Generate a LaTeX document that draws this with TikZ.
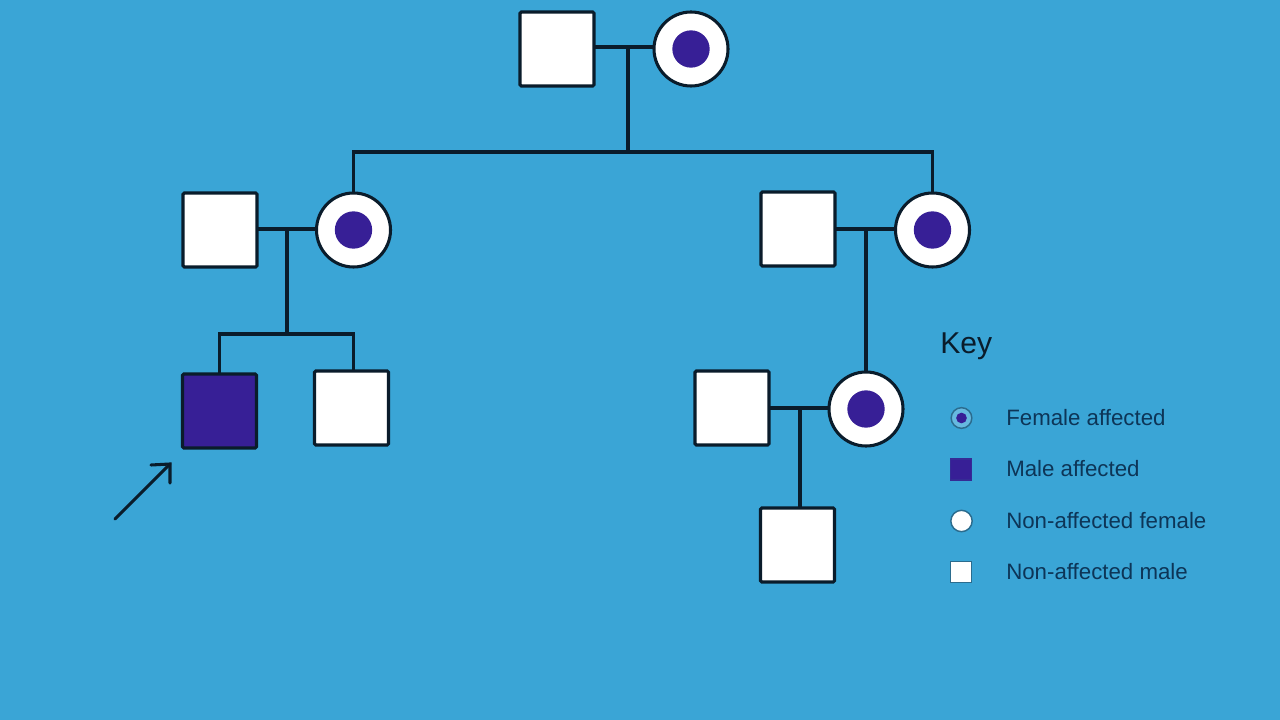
\documentclass[tikz,border=0pt]{standalone}
\usepackage{fontspec}
\setmainfont{Liberation Sans}
\definecolor{bgblue}{HTML}{3AA5D6}
\definecolor{affect}{HTML}{371F96}
\definecolor{inkline}{HTML}{0A1C2B}
\definecolor{keytext}{HTML}{0D3557}
\definecolor{keyedge}{HTML}{2B6C8E}
\definecolor{keyring}{HTML}{66B9E0}
\tikzset{
  x=0.75pt,y=-0.75pt,
  link/.style={draw=inkline,line width=2.3pt},
  male/.style={draw=inkline,line width=2.3pt,fill=white,rounded corners=1pt,minimum size=55.5pt,inner sep=0pt,outer sep=0pt},
  malesick/.style={male,fill=affect},
  carrier/.style={circle,draw=inkline,line width=2.3pt,fill=white,minimum size=55.5pt,inner sep=0pt,outer sep=0pt,
    path picture={\fill[affect] (path picture bounding box.center) circle (14pt);}},
  keylabel/.style={anchor=west,text=keytext,font=\fontsize{16.7pt}{18pt}\selectfont,inner sep=0pt},
  keyline/.style={line width=1.1pt},
}
\begin{document}
\begin{tikzpicture}
\useasboundingbox[fill=bgblue] (0,0) rectangle (1280,720);
% people
\node[male] (gpm) at (557,49) {};
\node[carrier] (gpf) at (691,49) {};
\node[male] (lm) at (220,230) {};
\node[carrier] (lf) at (353.5,230) {};
\node[male] (rm) at (798,229) {};
\node[carrier] (rf) at (932.5,230) {};
\node[malesick] (c1) at (219.5,411) {};
\node[male] (c2) at (351.5,408) {};
\node[male] (sm) at (732,408) {};
\node[carrier] (sf) at (866,409) {};
\node[male] (gc) at (797.5,545) {};
% junctions
\coordinate (j0) at (628,47);
\coordinate (j0b) at (628,152);
\coordinate (j1) at (287,229);
\coordinate (j1b) at (287,334);
\coordinate (j2) at (866,229);
\coordinate (j3) at (800,408);
\coordinate (c2top) at (353.5,371);
% connectors
\draw[link] (gpm.east |- j0) -- (gpf.west |- j0);
\draw[link] (j0) -- (j0b);
\draw[link] (lf.north) -- (lf.north |- j0b) -- (rf.north |- j0b) -- (rf.north);
\draw[link] (lm.east |- j1) -- (lf.west |- j1);
\draw[link] (j1) -- (j1b);
\draw[link] (c1.north) -- (c1.north |- j1b) -- (c2top |- j1b) -- (c2top);
\draw[link] (rm.east |- j2) -- (rf.west |- j2);
\draw[link] (j2) -- (sf.north);
\draw[link] (sm.east |- j3) -- (sf.west |- j3);
\draw[link] (j3) -- (j3 |- gc.north);
% pointer
\coordinate (arrs) at (115,519);
\coordinate (arre) at (170,464);
\draw[link,line cap=round] (arrs) -- (arre);
\draw[link,line cap=round,line join=miter] (151,465) -- (arre) -- (170,483);
% key
\node[anchor=west,text=inkline,font=\fontsize{22.6pt}{26pt}\selectfont,inner sep=0pt] (keyt) at (940,346.5) {Key};
\node[circle,draw=keyedge,fill=keyring,keyline,minimum size=15.5pt,inner sep=0pt] (k1) at (961.5,418) {};
\fill[affect] (k1.center) circle (4pt);
\node[draw=affect!85!keyedge,fill=affect,keyline,minimum size=16pt,inner sep=0pt] (k2) at (961,469.5) {};
\node[circle,draw=keyedge,fill=white,keyline,minimum size=16pt,inner sep=0pt] (k3) at (961.5,521) {};
\node[draw=keyedge,fill=white,keyline,minimum size=16pt,inner sep=0pt] (k4) at (961,572) {};
\node[keylabel] (t1) at (1006,417.5) {Female affected};
\node[keylabel] (t2) at (1006,469) {Male affected};
\node[keylabel] (t3) at (1006,520.5) {Non-affected female};
\node[keylabel] (t4) at (1006,571.5) {Non-affected male};
\end{tikzpicture}
\end{document}
